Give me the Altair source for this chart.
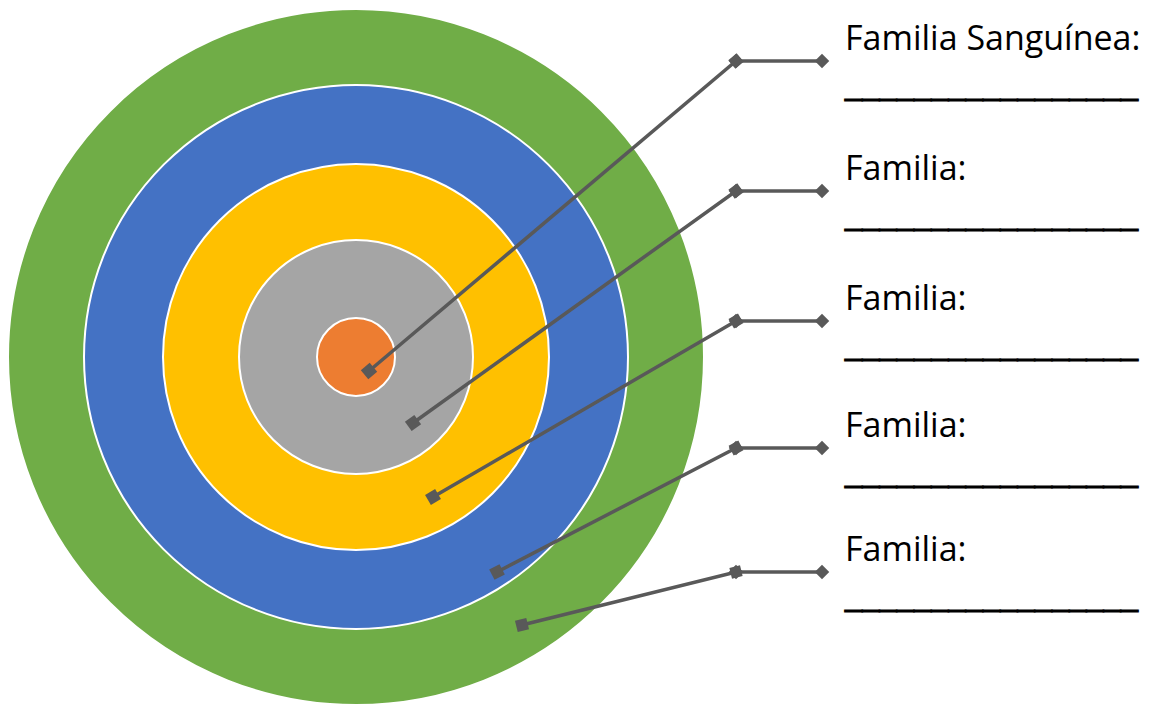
import math
import altair as alt
import pandas as pd

# ---- data -------------------------------------------------------------
ring_names = ["Anillo 5", "Anillo 4", "Anillo 3", "Anillo 2", "Centro"]
ring_radius = [348, 272, 193, 117, 39]
ring_colors = ["#70AD47", "#4472C4", "#FFC000", "#A5A5A5", "#ED7D31"]
center_x = 356
center_y = 357

conn_start_x = [369, 413, 433, 497, 522]
conn_start_y = [371, 423, 497, 572, 625]
elbow_x = [736, 736, 736, 736, 736]
elbow_y = [61, 191, 321, 448, 572]
end_x = [822, 822, 822, 822, 822]

labels = ["Familia Sanguínea:", "Familia:", "Familia:", "Familia:", "Familia:"]
blank = "_________________"
label_x = 845
label_dy = -11
blank_dy = 34

# ---- tables -----------------------------------------------------------
rings = pd.DataFrame({
    "ring": ring_names,
    "r": ring_radius,
    "color": ring_colors,
    "cx": [center_x] * 5,
    "cy": [center_y] * 5,
    "ord": list(range(5)),
})
# Vega circle symbol: diameter = sqrt(size)
rings["area"] = (2 * rings["r"]) ** 2

line_rows, marks = [], []
for i in range(5):
    pts = [(conn_start_x[i], conn_start_y[i]), (elbow_x[i], elbow_y[i]), (end_x[i], elbow_y[i])]
    for k, (px, py) in enumerate(pts):
        line_rows.append({"c": i, "k": k, "x": px, "y": py})
    ang = math.degrees(math.atan2(elbow_y[i] - conn_start_y[i], elbow_x[i] - conn_start_x[i])) % 360
    marks.append({"x": conn_start_x[i], "y": conn_start_y[i], "shape": "square", "angle": ang, "size": 135})
    marks.append({"x": elbow_x[i], "y": elbow_y[i], "shape": "square", "angle": ang, "size": 120})
    marks.append({"x": elbow_x[i], "y": elbow_y[i], "shape": "diamond", "angle": 0, "size": 210})
    marks.append({"x": end_x[i], "y": elbow_y[i], "shape": "diamond", "angle": 0, "size": 210})
lines = pd.DataFrame(line_rows)
marks = pd.DataFrame(marks)

label_rows = [{"x": label_x, "y": elbow_y[i] + label_dy, "t": labels[i]} for i in range(5)]
blank_rows = [{"x": label_x, "y": elbow_y[i] + blank_dy, "t": blank} for i in range(5)]
label_df = pd.DataFrame(label_rows)
blank_df = pd.DataFrame(blank_rows)

X = alt.Scale(domain=[8, 1142], nice=False, zero=False)
Y = alt.Scale(domain=[8, 705], nice=False, zero=False, reverse=True)

circles = alt.Chart(rings).mark_circle(opacity=1, stroke="white", strokeWidth=2).encode(
    x=alt.X("cx:Q", scale=X, axis=None),
    y=alt.Y("cy:Q", scale=Y, axis=None),
    size=alt.Size("area:Q", scale=None),
    color=alt.Color("color:N", scale=None),
    order=alt.Order("ord:Q"),
)

conn = alt.Chart(lines).mark_line(color="#595959", strokeWidth=3.5).encode(
    x=alt.X("x:Q", scale=X, axis=None),
    y=alt.Y("y:Q", scale=Y, axis=None),
    detail="c:N",
    order="k:Q",
)

pts = alt.Chart(marks).mark_point(filled=True, opacity=1, color="#595959").encode(
    x=alt.X("x:Q", scale=X, axis=None),
    y=alt.Y("y:Q", scale=Y, axis=None),
    shape=alt.Shape("shape:N", scale=None),
    angle=alt.Angle("angle:Q", scale=None),
    size=alt.Size("size:Q", scale=None),
)

txt = alt.Chart(label_df).mark_text(
    align="left", baseline="alphabetic", font="Open Sans", fontSize=34, color="#000000"
).encode(
    x=alt.X("x:Q", scale=X, axis=None),
    y=alt.Y("y:Q", scale=Y, axis=None),
    text="t:N",
)

blanks = alt.Chart(blank_df).mark_text(
    align="left", baseline="alphabetic", font="Liberation Sans", fontSize=31,
    fill="#000000", stroke="#000000", strokeWidth=1
).encode(
    x=alt.X("x:Q", scale=X, axis=None),
    y=alt.Y("y:Q", scale=Y, axis=None),
    text="t:N",
)

chart = alt.layer(circles, conn, pts, txt, blanks).properties(
    width=1134, height=697, padding=0, autosize=alt.AutoSizeParams(type="none")
).configure_view(stroke=None)

chart.save("out.html", embed_options={"renderer": "svg", "actions": False})
